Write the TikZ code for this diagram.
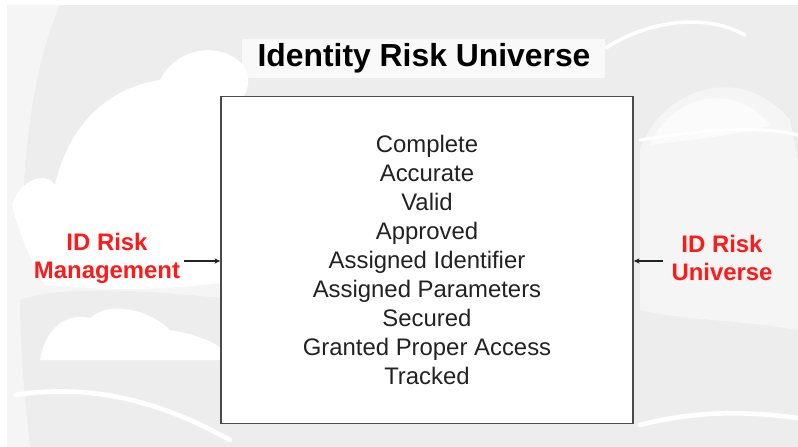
\documentclass[tikz,border=0pt]{standalone}
\usepackage{fontspec}
\setmainfont{Liberation Sans}
\usetikzlibrary{arrows.meta}
\definecolor{bggray}{HTML}{EDEDED}
\definecolor{cloudlight}{HTML}{F5F5F5}
\definecolor{boxline}{HTML}{4A4A4A}
\definecolor{labelred}{HTML}{FF1A1A}
\definecolor{inktext}{HTML}{222222}
\begin{document}
\begin{tikzpicture}[x=0.03cm,y=-0.03cm,
  listtext/.style={font=\fontsize{20.4}{24.7}\selectfont, align=center, text=inktext, inner sep=0pt},
  risklabel/.style={font=\bfseries\fontsize{20.4}{24}\selectfont, align=center, text=labelred, inner sep=0pt},
  titletext/.style={font=\bfseries\fontsize{27.2}{30}\selectfont, text=black, inner sep=0pt},
  feed/.style={-{Stealth[length=5pt,width=4.5pt]}, line width=0.9pt, draw=inktext},
  cloud/.style={fill=white, draw=none},
  swoosh/.style={draw=white, line width=4pt, line cap=round}]
\useasboundingbox (0,0) rectangle (798,447);
\fill[white] (0,0) rectangle (798,447);
\fill[bggray] (7,5) rectangle (798,447);

% soft lighter band on the left
\fill[cloudlight] (7,5) -- (60,5) .. controls (35,60) and (20,150) .. (20,300)
  .. controls (20,350) and (25,400) .. (30,447) -- (7,447) -- cycle;

% pale haze under the large cloud
\fill[cloudlight] (20,300) .. controls (60,285) and (150,290) .. (240,300) -- (240,200) -- (20,200) -- cycle;

% large white cloud on the left
\fill[cloud] (12,205) .. controls (20,180) and (45,170) .. (55,185)
  .. controls (65,140) and (95,90) .. (160,80)
  .. controls (175,50) and (215,40) .. (240,62)
  .. controls (250,70) and (252,90) .. (240,100) -- (240,280)
  .. controls (170,292) and (100,290) .. (45,285)
  .. controls (30,260) and (18,230) .. (12,205) -- cycle;

% small cloud lower left
\fill[cloud] (40,360) .. controls (45,330) and (65,312) .. (90,318)
  .. controls (110,300) and (150,310) .. (170,330)
  .. controls (200,335) and (225,345) .. (230,360) -- cycle;

% right side cloud dome
\fill[cloudlight] (640,150) .. controls (660,90) and (740,60) .. (790,120)
  -- (798,160) -- (798,330) .. controls (740,320) and (680,320) .. (640,310) -- cycle;
\fill[white, opacity=0.6] (650,145) .. controls (670,95) and (735,80) .. (770,125)
  .. controls (740,135) and (690,140) .. (650,145) -- cycle;

% white streaks
\draw[swoosh] (15,395) .. controls (80,385) and (150,395) .. (230,440);
\draw[swoosh] (640,425) .. controls (690,412) and (740,410) .. (798,418);
\draw[swoosh, line width=3pt] (606,48) .. controls (640,25) and (700,10) .. (745,35);
\draw[swoosh, line width=2.5pt] (640,140) .. controls (700,130) and (760,125) .. (798,135);

% title
\fill[white, opacity=0.7] (242,39) rectangle (605,78);
\node[titletext] (title) at (424,58) {Identity Risk Universe};

% central box
\node[draw=boxline, line width=1.3pt, fill=white, inner sep=0pt,
      minimum width=12.36cm, minimum height=9.81cm] (universe) at (427,260) {};
\node[listtext] (items) at (427,260) {Complete\\Accurate\\Valid\\Approved\\Assigned Identifier\\Assigned Parameters\\Secured\\Granted Proper Access\\Tracked};

% side labels
\node[risklabel] (mgmt) at (107,258) {ID Risk\\Management};
\node[risklabel] (iru) at (722,258) {ID Risk\\Universe};
\coordinate (mgmtend) at (184,261);
\coordinate (iruend) at (663,261);
\draw[feed] (mgmtend) -- (mgmtend -| universe.west);
\draw[feed] (iruend) -- (iruend -| universe.east);
\end{tikzpicture}
\end{document}
